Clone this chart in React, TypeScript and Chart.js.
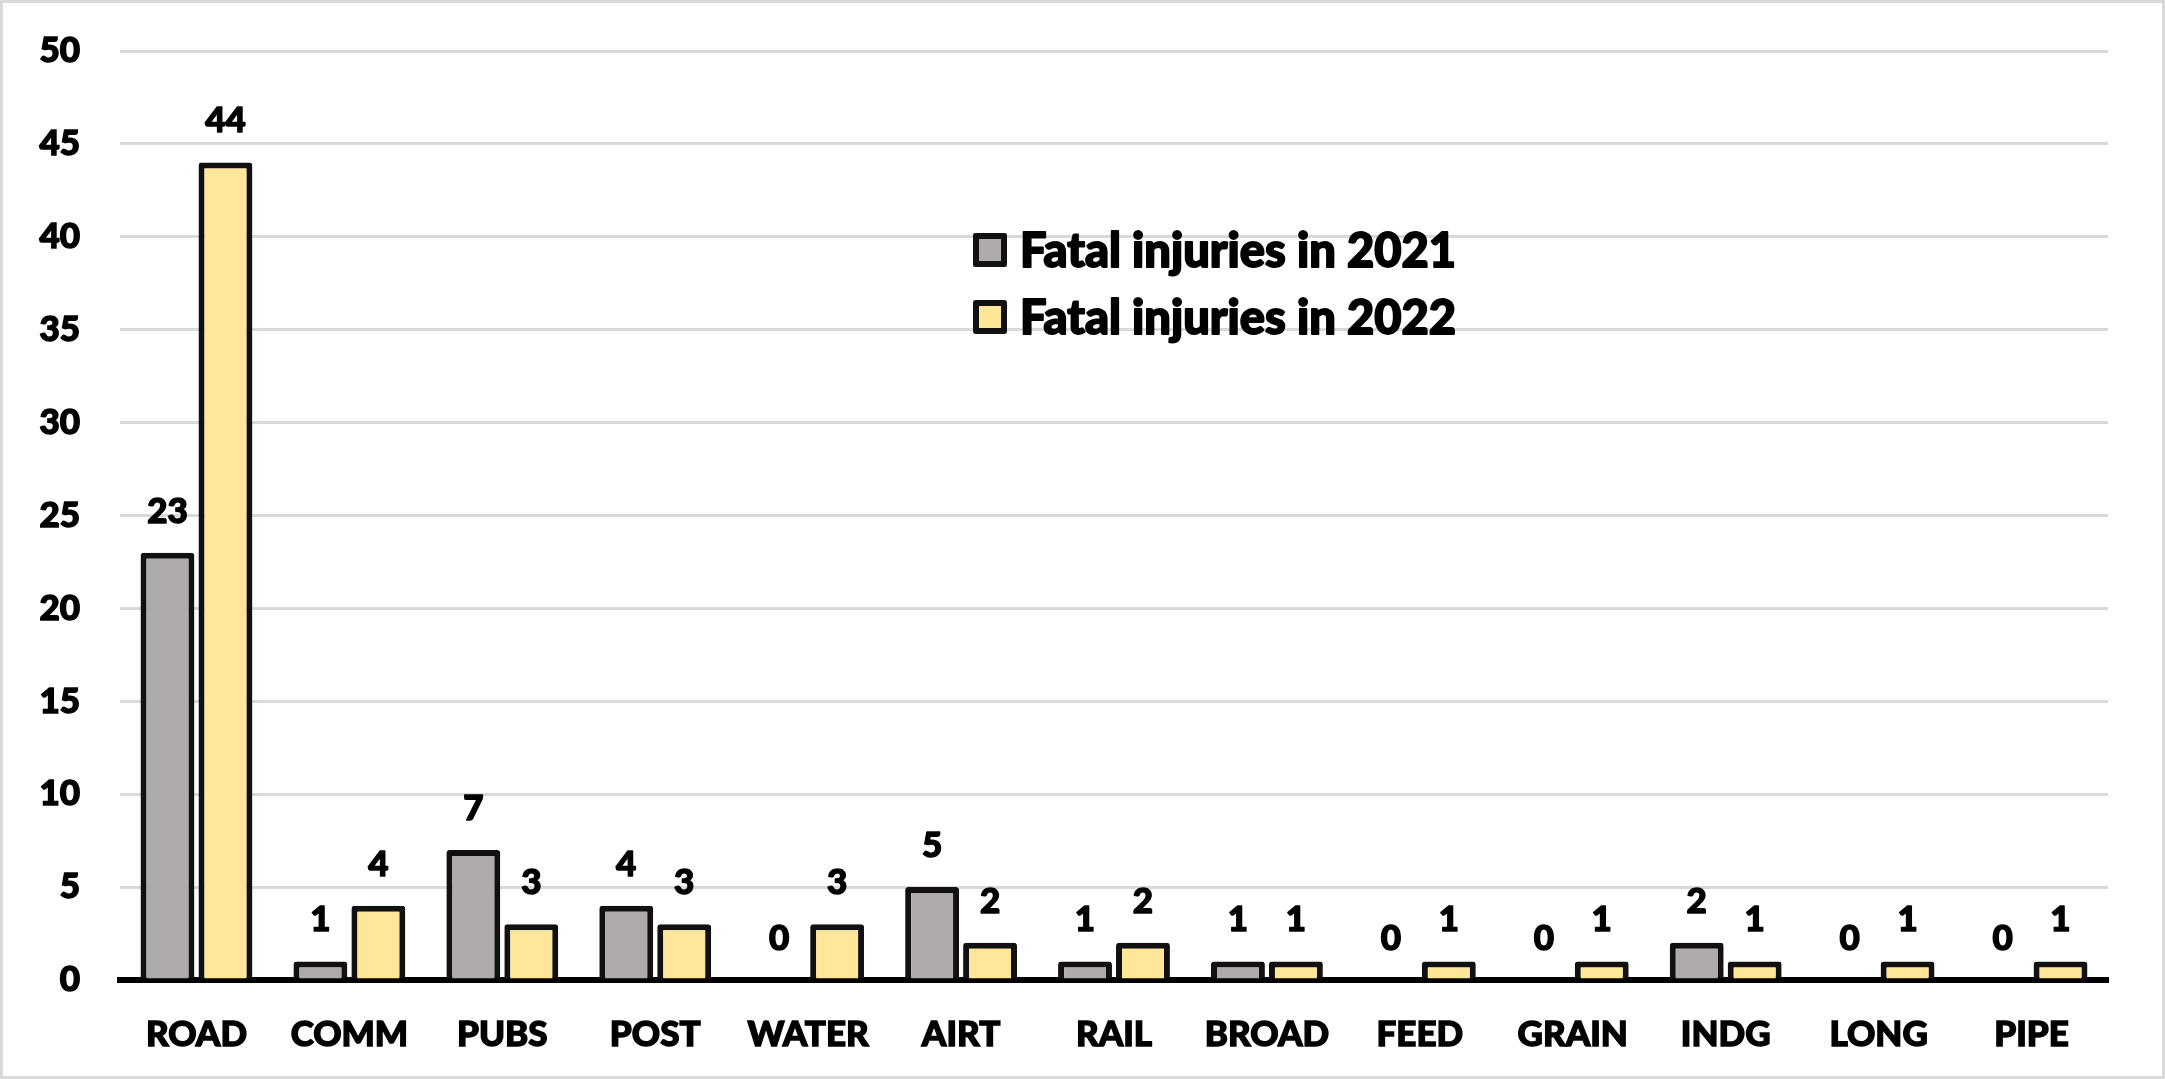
import React, { useEffect, useRef } from "react";
import { Chart, registerables } from "chart.js";

Chart.register(...registerables);

const categories = ["ROAD", "COMM", "PUBS", "POST", "WATER", "AIRT", "RAIL", "BROAD", "FEED", "GRAIN", "INDG", "LONG", "PIPE"];
const fatal2021 = [23, 1, 7, 4, 0, 5, 1, 1, 0, 0, 2, 0, 0];
const fatal2022 = [44, 4, 3, 3, 3, 2, 2, 1, 1, 1, 1, 1, 1];
const seriesNames = ["Fatal injuries in 2021", "Fatal injuries in 2022"];
const seriesColors = ["#AFABAB", "#FFE699"];

const FONT = "Lato, 'Open Sans', sans-serif";
const WEIGHT = "900";

export default function App() {
  const ref = useRef<HTMLCanvasElement | null>(null);

  useEffect(() => {
    document.body.style.margin = "0";
    const canvas = ref.current;
    if (!canvas) return;

    const labelPlugin = {
      id: "labelsAndLegend",
      afterDatasetsDraw(chart: any) {
        const ctx = chart.ctx;
        ctx.save();
        ctx.fillStyle = "#000";
        ctx.strokeStyle = "#000";
        ctx.lineJoin = "round";
        ctx.font = `${WEIGHT} 35px ${FONT}`;
        ctx.textAlign = "center";
        ctx.textBaseline = "alphabetic";
        ctx.lineWidth = 1.4;
        chart.data.datasets.forEach((ds: any, di: number) => {
          const meta = chart.getDatasetMeta(di);
          meta.data.forEach((bar: any, i: number) => {
            const t = String(ds.data[i]);
            ctx.fillText(t, bar.x, bar.y - 30);
            ctx.strokeText(t, bar.x, bar.y - 30);
          });
        });
        // legend
        const lx = 973;
        const rows = [250, 317];
        ctx.textAlign = "left";
        ctx.textBaseline = "middle";
        ctx.font = `${WEIGHT} 47px ${FONT}`;
        seriesNames.forEach((name, i) => {
          const cy = rows[i];
          ctx.fillStyle = seriesColors[i];
          ctx.fillRect(lx, cy - 17, 34, 34);
          ctx.lineWidth = 6;
          ctx.strokeStyle = "#111";
          ctx.strokeRect(lx + 3, cy - 14, 28, 28);
          ctx.fillStyle = "#000";
          ctx.strokeStyle = "#000";
          ctx.lineWidth = 1.8;
          ctx.fillText(name, 1020, cy + 2);
          ctx.strokeText(name, 1020, cy + 2);
        });
        ctx.restore();
      },
      afterDraw(chart: any) {
        const ctx = chart.ctx;
        ctx.save();
        ctx.strokeStyle = "#d9d9d9";
        ctx.lineWidth = 3;
        ctx.strokeRect(1.5, 1.5, chart.width - 3, chart.height - 3);
        ctx.restore();
      },
    };

    const chart = new Chart(canvas, {
      type: "bar",
      data: {
        labels: categories,
        datasets: [
          {
            label: seriesNames[0],
            data: fatal2021,
            backgroundColor: seriesColors[0],
            borderColor: "#111",
            borderWidth: 6,
            borderRadius: 3,
            categoryPercentage: 0.758,
            barPercentage: 0.93,
          },
          {
            label: seriesNames[1],
            data: fatal2022,
            backgroundColor: seriesColors[1],
            borderColor: "#111",
            borderWidth: 6,
            borderRadius: 3,
            categoryPercentage: 0.758,
            barPercentage: 0.93,
          },
        ],
      },
      options: {
        responsive: false,
        animation: false,
        layout: { padding: { top: 51, right: 57, left: 0, bottom: 0 } },
        plugins: {
          legend: { display: false },
          tooltip: { enabled: false },
          title: { display: false },
        },
        scales: {
          x: {
            grid: { display: false, drawTicks: false },
            border: { display: true, color: "#000", width: 6 },
            ticks: {
              color: "#000",
              font: { family: FONT, size: 35, weight: WEIGHT as any },
              textStrokeColor: "#000",
              textStrokeWidth: 1.4,
              padding: 34,
              maxRotation: 0,
              autoSkip: false,
            },
            afterFit(scale: any) {
              scale.height = 99;
            },
          },
          y: {
            min: 0,
            max: 50,
            grid: { color: "#d9d9d9", lineWidth: 3, drawTicks: false },
            border: { display: false },
            ticks: {
              stepSize: 5,
              color: "#000",
              font: { family: FONT, size: 35, weight: WEIGHT as any },
              textStrokeColor: "#000",
              textStrokeWidth: 1.4,
              padding: 40,
            },
            afterFit(scale: any) {
              scale.width = 120;
              scale.paddingTop = 0;
              scale.paddingBottom = 0;
            },
          },
        },
      },
      plugins: [labelPlugin],
    });

    return () => chart.destroy();
  }, []);

  return (
    <div style={{ width: 2165, height: 1079, background: "#fff" }}>
      <canvas ref={ref} width={2165} height={1079} style={{ display: "block" }} />
    </div>
  );
}
